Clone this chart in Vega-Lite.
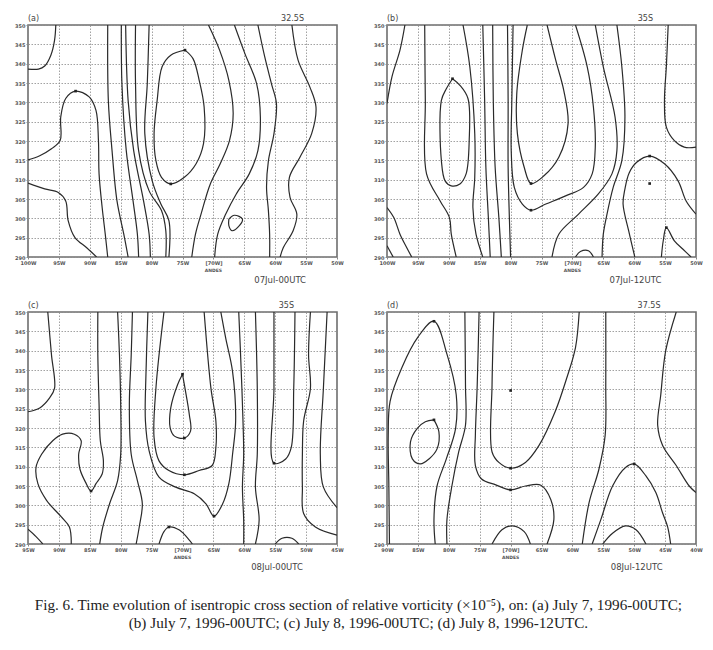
{
"$schema": "https://vega.github.io/schema/vega-lite/v6.json",
"background": "white",
"padding": {"left": 13, "top": 14, "right": 0, "bottom": 0},
"config": {
 "view": {"stroke": "#6e6e6e", "strokeWidth": 1.6},
 "axis": {"labelFontSize": 5, "labelFont": "DejaVu Sans", "labelFontWeight": "bold", "labelColor": "#555", "tickSize": 2, "tickColor": "#888", "domain": false, "grid": true, "gridColor": "#8a8a8a", "gridDash": [1.5, 1.5], "gridWidth": 0.8, "labelPadding": 1, "labelOverlap": false, "labelFlush": false, "tickCount": 30}
},
"datasets": {
 "iso": [
 {"p":"a","c":"a1","lon":95.5,"th":350},{"p":"a","c":"a1","lon":95.7,"th":346.1},{"p":"a","c":"a1","lon":96.3,"th":342.2},{"p":"a","c":"a1","lon":97.3,"th":339.4},{"p":"a","c":"a1","lon":98.3,"th":338.6},{"p":"a","c":"a1","lon":100,"th":338.6},
 {"p":"a","c":"a2","lon":100,"th":315.1},{"p":"a","c":"a2","lon":98.1,"th":316.2},{"p":"a","c":"a2","lon":96.2,"th":318},{"p":"a","c":"a2","lon":94.8,"th":320.1},{"p":"a","c":"a2","lon":94.7,"th":326.2},{"p":"a","c":"a2","lon":93.9,"th":331},{"p":"a","c":"a2","lon":92.3,"th":332.9},{"p":"a","c":"a2","lon":90.1,"th":331.4},{"p":"a","c":"a2","lon":89,"th":327.9},{"p":"a","c":"a2","lon":88.6,"th":320.1},{"p":"a","c":"a2","lon":88.5,"th":311.5},{"p":"a","c":"a2","lon":88,"th":302.8},{"p":"a","c":"a2","lon":87.5,"th":295.9},{"p":"a","c":"a2","lon":87.1,"th":290},
 {"p":"a","c":"a3","lon":100,"th":309.1},{"p":"a","c":"a3","lon":97.3,"th":307.6},{"p":"a","c":"a3","lon":95.1,"th":306.7},{"p":"a","c":"a3","lon":93.9,"th":304.5},{"p":"a","c":"a3","lon":93.5,"th":299.4},{"p":"a","c":"a3","lon":92.4,"th":295},{"p":"a","c":"a3","lon":90.5,"th":292.4},{"p":"a","c":"a3","lon":88.9,"th":290},
 {"p":"a","c":"b1","lon":87.1,"th":350},{"p":"a","c":"b1","lon":87,"th":330.5},{"p":"a","c":"b1","lon":86.4,"th":317.5},{"p":"a","c":"b1","lon":85.6,"th":304.5},{"p":"a","c":"b1","lon":84.5,"th":295.9},{"p":"a","c":"b1","lon":83.8,"th":290},
 {"p":"a","c":"b2","lon":84.9,"th":350},{"p":"a","c":"b2","lon":84.8,"th":334.8},{"p":"a","c":"b2","lon":84.1,"th":317.5},{"p":"a","c":"b2","lon":83,"th":304.5},{"p":"a","c":"b2","lon":82.3,"th":295.9},{"p":"a","c":"b2","lon":82.1,"th":290},
 {"p":"a","c":"b3","lon":84.2,"th":350},{"p":"a","c":"b3","lon":83.8,"th":330.5},{"p":"a","c":"b3","lon":82.9,"th":317.5},{"p":"a","c":"b3","lon":81.3,"th":304.5},{"p":"a","c":"b3","lon":80.4,"th":295.9},{"p":"a","c":"b3","lon":80.2,"th":290},
 {"p":"a","c":"b4","lon":82.6,"th":350},{"p":"a","c":"b4","lon":82.6,"th":334.8},{"p":"a","c":"b4","lon":82.1,"th":317.5},{"p":"a","c":"b4","lon":80.4,"th":307.1},{"p":"a","c":"b4","lon":78.4,"th":302},{"p":"a","c":"b4","lon":77.7,"th":296.8},{"p":"a","c":"b4","lon":77.7,"th":290},
 {"p":"a","c":"b5","lon":80.4,"th":350},{"p":"a","c":"b5","lon":80.7,"th":334.8},{"p":"a","c":"b5","lon":81.1,"th":321.9},{"p":"a","c":"b5","lon":79.9,"th":309.7},{"p":"a","c":"b5","lon":78.5,"th":303.7},{"p":"a","c":"b5","lon":77.2,"th":299.4},{"p":"a","c":"b5","lon":77.2,"th":290},
 {"p":"a","c":"a4","lon":74.6,"th":343.5},{"p":"a","c":"a4","lon":76.9,"th":342.2},{"p":"a","c":"a4","lon":78.3,"th":339.2},{"p":"a","c":"a4","lon":79.1,"th":330.5},{"p":"a","c":"a4","lon":79.6,"th":321.9},{"p":"a","c":"a4","lon":79.3,"th":314.9},{"p":"a","c":"a4","lon":78.4,"th":310.6},{"p":"a","c":"a4","lon":76.9,"th":308.9},{"p":"a","c":"a4","lon":74.7,"th":310.6},{"p":"a","c":"a4","lon":72.8,"th":314.1},{"p":"a","c":"a4","lon":71.6,"th":319.3},{"p":"a","c":"a4","lon":71.5,"th":328.8},{"p":"a","c":"a4","lon":72.3,"th":335.7},{"p":"a","c":"a4","lon":73.3,"th":341.3},{"p":"a","c":"a4","lon":74.6,"th":343.5},
 {"p":"a","c":"r1","lon":70.8,"th":350},{"p":"a","c":"r1","lon":69,"th":343.5},{"p":"a","c":"r1","lon":67.5,"th":335.7},{"p":"a","c":"r1","lon":66.8,"th":327.1},{"p":"a","c":"r1","lon":67.4,"th":320.1},{"p":"a","c":"r1","lon":68.9,"th":314.1},{"p":"a","c":"r1","lon":70.5,"th":308.9},{"p":"a","c":"r1","lon":72,"th":301.1},{"p":"a","c":"r1","lon":72.9,"th":295.9},{"p":"a","c":"r1","lon":73.5,"th":290},
 {"p":"a","c":"r2","lon":66.6,"th":350},{"p":"a","c":"r2","lon":64.9,"th":342.6},{"p":"a","c":"r2","lon":63,"th":334.8},{"p":"a","c":"r2","lon":62.4,"th":326.2},{"p":"a","c":"r2","lon":62.8,"th":317.5},{"p":"a","c":"r2","lon":64.2,"th":311.5},{"p":"a","c":"r2","lon":66.3,"th":306.3},{"p":"a","c":"r2","lon":68,"th":301.1},{"p":"a","c":"r2","lon":69.3,"th":295.9},{"p":"a","c":"r2","lon":69.8,"th":290},
 {"p":"a","c":"r3","lon":62.8,"th":350},{"p":"a","c":"r3","lon":61.7,"th":341.8},{"p":"a","c":"r3","lon":60.6,"th":334.8},{"p":"a","c":"r3","lon":59.8,"th":329.7},{"p":"a","c":"r3","lon":60.2,"th":321.9},{"p":"a","c":"r3","lon":61.1,"th":314.9},{"p":"a","c":"r3","lon":61.4,"th":308},{"p":"a","c":"r3","lon":61.1,"th":302},{"p":"a","c":"r3","lon":60.9,"th":295.9},{"p":"a","c":"r3","lon":60.9,"th":290},
 {"p":"a","c":"r4","lon":57.3,"th":350},{"p":"a","c":"r4","lon":56.3,"th":340.9},{"p":"a","c":"r4","lon":54.4,"th":334},{"p":"a","c":"r4","lon":53.4,"th":328.8},{"p":"a","c":"r4","lon":54.1,"th":321.9},{"p":"a","c":"r4","lon":56,"th":315.8},{"p":"a","c":"r4","lon":57.7,"th":310.6},{"p":"a","c":"r4","lon":57.6,"th":305.4},{"p":"a","c":"r4","lon":56.5,"th":301.1},{"p":"a","c":"r4","lon":57.1,"th":296.8},{"p":"a","c":"r4","lon":58.7,"th":292.4},{"p":"a","c":"r4","lon":59.2,"th":290},
 {"p":"a","c":"a5","lon":67.5,"th":299.8},{"p":"a","c":"a5","lon":66.6,"th":300.8},{"p":"a","c":"a5","lon":65.3,"th":299.8},{"p":"a","c":"a5","lon":65.8,"th":298.1},{"p":"a","c":"a5","lon":67,"th":296.8},{"p":"a","c":"a5","lon":67.5,"th":298.1},{"p":"a","c":"a5","lon":67.5,"th":299.8},

 {"p":"b","c":"1","lon":97.1,"th":350},{"p":"b","c":"1","lon":97.9,"th":343.5},{"p":"b","c":"1","lon":99.2,"th":336.6},{"p":"b","c":"1","lon":100,"th":329.7},
 {"p":"b","c":"2","lon":100,"th":302.8},{"p":"b","c":"2","lon":98.9,"th":300.2},{"p":"b","c":"2","lon":97.9,"th":295.9},{"p":"b","c":"2","lon":96.8,"th":292.4},{"p":"b","c":"2","lon":96,"th":290},
 {"p":"b","c":"3","lon":100,"th":292.9},{"p":"b","c":"3","lon":99,"th":290},
 {"p":"b","c":"4","lon":93.9,"th":350},{"p":"b","c":"4","lon":93.8,"th":330.5},{"p":"b","c":"4","lon":93.6,"th":311.5},{"p":"b","c":"4","lon":91.4,"th":304.5},{"p":"b","c":"4","lon":89.9,"th":300.2},{"p":"b","c":"4","lon":89.6,"th":295.9},{"p":"b","c":"4","lon":88.8,"th":290},
 {"p":"b","c":"5","lon":89.4,"th":336.1},{"p":"b","c":"5","lon":88.2,"th":334.4},{"p":"b","c":"5","lon":86.9,"th":331},{"p":"b","c":"5","lon":86.7,"th":320.1},{"p":"b","c":"5","lon":87.2,"th":311.5},{"p":"b","c":"5","lon":88.2,"th":308.9},{"p":"b","c":"5","lon":89.6,"th":308.4},{"p":"b","c":"5","lon":90.6,"th":309.7},{"p":"b","c":"5","lon":91.2,"th":314.9},{"p":"b","c":"5","lon":91.2,"th":330.5},{"p":"b","c":"5","lon":90.4,"th":333.5},{"p":"b","c":"5","lon":89.4,"th":336.1},
 {"p":"b","c":"6","lon":87.7,"th":350},{"p":"b","c":"6","lon":86.6,"th":339.2},{"p":"b","c":"6","lon":85.8,"th":321.9},{"p":"b","c":"6","lon":85.8,"th":310.6},{"p":"b","c":"6","lon":86.1,"th":302.8},{"p":"b","c":"6","lon":85.6,"th":295.9},{"p":"b","c":"6","lon":84.5,"th":290},
 {"p":"b","c":"7","lon":84.5,"th":350},{"p":"b","c":"7","lon":84.2,"th":330.5},{"p":"b","c":"7","lon":84,"th":313.2},{"p":"b","c":"7","lon":83.6,"th":300.2},{"p":"b","c":"7","lon":83.3,"th":290},
 {"p":"b","c":"8","lon":82.9,"th":350},{"p":"b","c":"8","lon":82.8,"th":330.5},{"p":"b","c":"8","lon":82.5,"th":313.2},{"p":"b","c":"8","lon":81.9,"th":300.2},{"p":"b","c":"8","lon":81.5,"th":290},
 {"p":"b","c":"9","lon":80.5,"th":350},{"p":"b","c":"9","lon":80.4,"th":330.5},{"p":"b","c":"9","lon":80.4,"th":313.2},{"p":"b","c":"9","lon":80.2,"th":300.2},{"p":"b","c":"9","lon":80,"th":290},
 {"p":"b","c":"10","lon":77.3,"th":350},{"p":"b","c":"10","lon":78.1,"th":343.5},{"p":"b","c":"10","lon":79,"th":332.3},{"p":"b","c":"10","lon":78.9,"th":321.9},{"p":"b","c":"10","lon":77.8,"th":313.2},{"p":"b","c":"10","lon":76.7,"th":309},{"p":"b","c":"10","lon":74.6,"th":311},{"p":"b","c":"10","lon":72.2,"th":315.8},{"p":"b","c":"10","lon":70.7,"th":324.5},{"p":"b","c":"10","lon":71.4,"th":333.1},{"p":"b","c":"10","lon":72.7,"th":340.9},{"p":"b","c":"10","lon":74.1,"th":350},
 {"p":"b","c":"11","lon":79.6,"th":350},{"p":"b","c":"11","lon":79.8,"th":330.5},{"p":"b","c":"11","lon":79.9,"th":317.5},{"p":"b","c":"11","lon":79.4,"th":308},{"p":"b","c":"11","lon":78.1,"th":303.7},{"p":"b","c":"11","lon":76.7,"th":302.1},{"p":"b","c":"11","lon":74.3,"th":303.7},{"p":"b","c":"11","lon":71.1,"th":305.8},{"p":"b","c":"11","lon":68.2,"th":308},{"p":"b","c":"11","lon":66.8,"th":311.5},{"p":"b","c":"11","lon":66.3,"th":318.4},{"p":"b","c":"11","lon":66.6,"th":328.8},{"p":"b","c":"11","lon":67.6,"th":339.2},{"p":"b","c":"11","lon":69.5,"th":350},
 {"p":"b","c":"12","lon":66.3,"th":350},{"p":"b","c":"12","lon":65,"th":339.2},{"p":"b","c":"12","lon":63.1,"th":326.2},{"p":"b","c":"12","lon":62.8,"th":317.5},{"p":"b","c":"12","lon":63.6,"th":311.5},{"p":"b","c":"12","lon":65.8,"th":306.3},{"p":"b","c":"12","lon":69,"th":301.1},{"p":"b","c":"12","lon":72.2,"th":295.9},{"p":"b","c":"12","lon":73.3,"th":290},
 {"p":"b","c":"13","lon":62.8,"th":350},{"p":"b","c":"13","lon":62,"th":339.2},{"p":"b","c":"13","lon":61.5,"th":326.2},{"p":"b","c":"13","lon":62,"th":314.9},{"p":"b","c":"13","lon":63.4,"th":308},{"p":"b","c":"13","lon":64.4,"th":301.1},{"p":"b","c":"13","lon":65,"th":295.9},{"p":"b","c":"13","lon":65.2,"th":290},
 {"p":"b","c":"14","lon":59.9,"th":290},{"p":"b","c":"14","lon":60.9,"th":296.8},{"p":"b","c":"14","lon":61.8,"th":303.7},{"p":"b","c":"14","lon":61.5,"th":307.6},{"p":"b","c":"14","lon":60.8,"th":311.8},{"p":"b","c":"14","lon":59.6,"th":314.5},{"p":"b","c":"14","lon":57.5,"th":316.1},{"p":"b","c":"14","lon":55.1,"th":314.1},{"p":"b","c":"14","lon":52.9,"th":309.7},{"p":"b","c":"14","lon":51.6,"th":304.5},{"p":"b","c":"14","lon":50,"th":301.1},
 {"p":"b","c":"15","lon":54.5,"th":350},{"p":"b","c":"15","lon":54.8,"th":339.2},{"p":"b","c":"15","lon":55.1,"th":330.5},{"p":"b","c":"15","lon":54.8,"th":323.6},{"p":"b","c":"15","lon":53.5,"th":320.1},{"p":"b","c":"15","lon":51.9,"th":318.4},{"p":"b","c":"15","lon":50,"th":318.4},
 {"p":"b","c":"16","lon":55.6,"th":290},{"p":"b","c":"16","lon":55.3,"th":294.2},{"p":"b","c":"16","lon":54.8,"th":297.6},{"p":"b","c":"16","lon":53.5,"th":294.2},{"p":"b","c":"16","lon":52.1,"th":292},{"p":"b","c":"16","lon":50.8,"th":290},
 {"p":"b","c":"17","lon":69.5,"th":290},{"p":"b","c":"17","lon":68.7,"th":291.4},{"p":"b","c":"17","lon":67.4,"th":291.6},{"p":"b","c":"17","lon":66.6,"th":290},

 {"p":"c","c":"1","lon":91.8,"th":350},{"p":"c","c":"1","lon":91.2,"th":338.9},{"p":"c","c":"1","lon":90.7,"th":330.3},{"p":"c","c":"1","lon":91.5,"th":327.8},{"p":"c","c":"1","lon":93.1,"th":325.2},{"p":"c","c":"1","lon":95,"th":324.2},
 {"p":"c","c":"2","lon":83.7,"th":350},{"p":"c","c":"2","lon":83.7,"th":338.9},{"p":"c","c":"2","lon":83.5,"th":326.1},{"p":"c","c":"2","lon":83.3,"th":316.7},{"p":"c","c":"2","lon":82.8,"th":311.5},{"p":"c","c":"2","lon":83,"th":308.1},{"p":"c","c":"2","lon":84,"th":305.6},{"p":"c","c":"2","lon":84.8,"th":303.7},{"p":"c","c":"2","lon":85.7,"th":306},{"p":"c","c":"2","lon":86.6,"th":309.4},{"p":"c","c":"2","lon":86.8,"th":313.2},{"p":"c","c":"2","lon":86.4,"th":316.7},{"p":"c","c":"2","lon":87.5,"th":318.4},{"p":"c","c":"2","lon":89.4,"th":318.4},{"p":"c","c":"2","lon":91,"th":316.7},{"p":"c","c":"2","lon":92.8,"th":313.2},{"p":"c","c":"2","lon":93.7,"th":309.8},{"p":"c","c":"2","lon":93.4,"th":305.6},{"p":"c","c":"2","lon":92,"th":301.3},{"p":"c","c":"2","lon":89.6,"th":297},{"p":"c","c":"2","lon":88.3,"th":294.4},{"p":"c","c":"2","lon":88,"th":290},
 {"p":"c","c":"3","lon":95,"th":293.8},{"p":"c","c":"3","lon":93.7,"th":291.9},{"p":"c","c":"3","lon":92.6,"th":290},
 {"p":"c","c":"4","lon":80.5,"th":350},{"p":"c","c":"4","lon":80.2,"th":338.9},{"p":"c","c":"4","lon":80,"th":326.1},{"p":"c","c":"4","lon":80,"th":313.2},{"p":"c","c":"4","lon":80.5,"th":306.4},{"p":"c","c":"4","lon":81.8,"th":300.4},{"p":"c","c":"4","lon":82.9,"th":294.4},{"p":"c","c":"4","lon":83.4,"th":290},
 {"p":"c","c":"5","lon":78.1,"th":350},{"p":"c","c":"5","lon":78.3,"th":338.9},{"p":"c","c":"5","lon":78.6,"th":326.1},{"p":"c","c":"5","lon":78.3,"th":313.2},{"p":"c","c":"5","lon":77.3,"th":306.4},{"p":"c","c":"5","lon":76.5,"th":300.4},{"p":"c","c":"5","lon":77,"th":294.4},{"p":"c","c":"5","lon":77.5,"th":290},
 {"p":"c","c":"6","lon":75.6,"th":350},{"p":"c","c":"6","lon":75.9,"th":334.6},{"p":"c","c":"6","lon":76,"th":321.8},{"p":"c","c":"6","lon":75.4,"th":314.1},{"p":"c","c":"6","lon":73.8,"th":307.3},{"p":"c","c":"6","lon":71.1,"th":304.7},{"p":"c","c":"6","lon":68.1,"th":303},{"p":"c","c":"6","lon":66.2,"th":300.4},{"p":"c","c":"6","lon":64.9,"th":297.2},{"p":"c","c":"6","lon":63.5,"th":300.4},{"p":"c","c":"6","lon":62.5,"th":305.6},{"p":"c","c":"6","lon":61.9,"th":313.2},{"p":"c","c":"6","lon":61.4,"th":321.8},{"p":"c","c":"6","lon":61.9,"th":334.6},{"p":"c","c":"6","lon":63,"th":343.2},{"p":"c","c":"6","lon":63.8,"th":350},
 {"p":"c","c":"7","lon":70,"th":333.9},{"p":"c","c":"7","lon":70.8,"th":331.2},{"p":"c","c":"7","lon":71.9,"th":325.2},{"p":"c","c":"7","lon":72,"th":320.1},{"p":"c","c":"7","lon":71.3,"th":317.9},{"p":"c","c":"7","lon":69.7,"th":317.4},{"p":"c","c":"7","lon":68.7,"th":319.2},{"p":"c","c":"7","lon":68.9,"th":323.5},{"p":"c","c":"7","lon":69.6,"th":330.3},{"p":"c","c":"7","lon":70,"th":333.9},
 {"p":"c","c":"8","lon":73,"th":350},{"p":"c","c":"8","lon":74.3,"th":330.3},{"p":"c","c":"8","lon":74.6,"th":317.5},{"p":"c","c":"8","lon":73.8,"th":311.5},{"p":"c","c":"8","lon":72.2,"th":309},{"p":"c","c":"8","lon":69.7,"th":307.9},{"p":"c","c":"8","lon":67.3,"th":309},{"p":"c","c":"8","lon":65.2,"th":310.3},{"p":"c","c":"8","lon":64.6,"th":315},{"p":"c","c":"8","lon":64.6,"th":321.8},{"p":"c","c":"8","lon":65.4,"th":330.3},{"p":"c","c":"8","lon":66.5,"th":350},
 {"p":"c","c":"9","lon":60.9,"th":350},{"p":"c","c":"9","lon":60.6,"th":338.9},{"p":"c","c":"9","lon":60.3,"th":326.1},{"p":"c","c":"9","lon":60.1,"th":313.2},{"p":"c","c":"9","lon":60.3,"th":304.7},{"p":"c","c":"9","lon":60.1,"th":296.2},{"p":"c","c":"9","lon":60.1,"th":290},
 {"p":"c","c":"15","lon":58.2,"th":350},{"p":"c","c":"15","lon":57.9,"th":330.3},{"p":"c","c":"15","lon":57.9,"th":313.2},{"p":"c","c":"15","lon":58.2,"th":304.7},{"p":"c","c":"15","lon":57.6,"th":296.2},{"p":"c","c":"15","lon":58.2,"th":290},
 {"p":"c","c":"10","lon":55.2,"th":350},{"p":"c","c":"10","lon":55.2,"th":330.3},{"p":"c","c":"10","lon":55.2,"th":310.9},{"p":"c","c":"10","lon":53.3,"th":312},{"p":"c","c":"10","lon":52.4,"th":315},{"p":"c","c":"10","lon":52,"th":330.3},{"p":"c","c":"10","lon":51.8,"th":350},
 {"p":"c","c":"11","lon":49.3,"th":350},{"p":"c","c":"11","lon":49.6,"th":338.9},{"p":"c","c":"11","lon":49.3,"th":330.3},{"p":"c","c":"11","lon":50.4,"th":321.8},{"p":"c","c":"11","lon":50.6,"th":313.2},{"p":"c","c":"11","lon":50.6,"th":304.7},{"p":"c","c":"11","lon":50.4,"th":297.9},{"p":"c","c":"11","lon":48.5,"th":294.4},{"p":"c","c":"11","lon":45,"th":292.3},
 {"p":"c","c":"12","lon":46.6,"th":350},{"p":"c","c":"12","lon":47.2,"th":330.3},{"p":"c","c":"12","lon":47.7,"th":313.2},{"p":"c","c":"12","lon":47.2,"th":304.7},{"p":"c","c":"12","lon":45,"th":299.4},
 {"p":"c","c":"13","lon":55,"th":290},{"p":"c","c":"13","lon":53.9,"th":291.5},{"p":"c","c":"13","lon":52.3,"th":291.5},{"p":"c","c":"13","lon":51.2,"th":290},
 {"p":"c","c":"14","lon":73.8,"th":290},{"p":"c","c":"14","lon":73,"th":293.2},{"p":"c","c":"14","lon":72.2,"th":294.4},{"p":"c","c":"14","lon":70.5,"th":293.6},{"p":"c","c":"14","lon":68.9,"th":291},{"p":"c","c":"14","lon":68.4,"th":290},

 {"p":"d","c":"1","lon":89.6,"th":290},{"p":"d","c":"1","lon":89.7,"th":305},{"p":"d","c":"1","lon":89.8,"th":318.1},{"p":"d","c":"1","lon":89.5,"th":326.9},{"p":"d","c":"1","lon":87.6,"th":335.6},{"p":"d","c":"1","lon":85,"th":343.5},{"p":"d","c":"1","lon":82.4,"th":347.6},{"p":"d","c":"1","lon":80.3,"th":339.1},{"p":"d","c":"1","lon":78.8,"th":328.6},{"p":"d","c":"1","lon":78.9,"th":319.9},{"p":"d","c":"1","lon":80.4,"th":312},{"p":"d","c":"1","lon":81.9,"th":305},{"p":"d","c":"1","lon":82.4,"th":296.3},{"p":"d","c":"1","lon":82.2,"th":290},
 {"p":"d","c":"2","lon":82.4,"th":322.1},{"p":"d","c":"2","lon":81.6,"th":319},{"p":"d","c":"2","lon":81.9,"th":314.6},{"p":"d","c":"2","lon":83.2,"th":312},{"p":"d","c":"2","lon":84.6,"th":310.7},{"p":"d","c":"2","lon":85.9,"th":312},{"p":"d","c":"2","lon":86.2,"th":316.4},{"p":"d","c":"2","lon":85.1,"th":319.9},{"p":"d","c":"2","lon":83.8,"th":321.6},{"p":"d","c":"2","lon":82.4,"th":322.1},
 {"p":"d","c":"3","lon":77.4,"th":350},{"p":"d","c":"3","lon":77.3,"th":331.2},{"p":"d","c":"3","lon":77.3,"th":320.7},{"p":"d","c":"3","lon":78.4,"th":313.8},{"p":"d","c":"3","lon":79.5,"th":305},{"p":"d","c":"3","lon":80.3,"th":296.3},{"p":"d","c":"3","lon":80.3,"th":290},
 {"p":"d","c":"4","lon":75.1,"th":350},{"p":"d","c":"4","lon":75.4,"th":331.2},{"p":"d","c":"4","lon":75.7,"th":318.1},{"p":"d","c":"4","lon":75.7,"th":310.3},{"p":"d","c":"4","lon":74.7,"th":306.8},{"p":"d","c":"4","lon":72.4,"th":305.3},{"p":"d","c":"4","lon":70,"th":304},{"p":"d","c":"4","lon":67.6,"th":305},{"p":"d","c":"4","lon":65.1,"th":305.2},{"p":"d","c":"4","lon":63.5,"th":301.5},{"p":"d","c":"4","lon":63,"th":296.3},{"p":"d","c":"4","lon":64.1,"th":290},
 {"p":"d","c":"5","lon":72.7,"th":350},{"p":"d","c":"5","lon":73,"th":331.2},{"p":"d","c":"5","lon":73,"th":313.8},{"p":"d","c":"5","lon":71.9,"th":311.1},{"p":"d","c":"5","lon":70,"th":309.6},{"p":"d","c":"5","lon":67.6,"th":311.1},{"p":"d","c":"5","lon":65.4,"th":315.5},{"p":"d","c":"5","lon":62.8,"th":324.2},{"p":"d","c":"5","lon":60.9,"th":333},{"p":"d","c":"5","lon":59.5,"th":340.8},{"p":"d","c":"5","lon":58.9,"th":350},
 {"p":"d","c":"6","lon":73,"th":290},{"p":"d","c":"6","lon":71.4,"th":293.7},{"p":"d","c":"6","lon":69.7,"th":294.7},{"p":"d","c":"6","lon":67.8,"th":293.2},{"p":"d","c":"6","lon":66.8,"th":290},
 {"p":"d","c":"7","lon":54.6,"th":350},{"p":"d","c":"7","lon":54.6,"th":331.2},{"p":"d","c":"7","lon":54.7,"th":318.1},{"p":"d","c":"7","lon":55.7,"th":309.4},{"p":"d","c":"7","lon":57.3,"th":300.7},{"p":"d","c":"7","lon":58.4,"th":290},
 {"p":"d","c":"8","lon":56.8,"th":290},{"p":"d","c":"8","lon":55.4,"th":296.3},{"p":"d","c":"8","lon":53.5,"th":305},{"p":"d","c":"8","lon":51.4,"th":309.8},{"p":"d","c":"8","lon":50,"th":310.7},{"p":"d","c":"8","lon":48.1,"th":307.6},{"p":"d","c":"8","lon":46.5,"th":303.3},{"p":"d","c":"8","lon":45.4,"th":298},{"p":"d","c":"8","lon":44.6,"th":294.5},{"p":"d","c":"8","lon":44.1,"th":290},
 {"p":"d","c":"9","lon":55.1,"th":290},{"p":"d","c":"9","lon":53.5,"th":292.8},{"p":"d","c":"9","lon":51.4,"th":294.7},{"p":"d","c":"9","lon":49.7,"th":293.7},{"p":"d","c":"9","lon":48.1,"th":290},
 {"p":"d","c":"10","lon":43.2,"th":350},{"p":"d","c":"10","lon":44.9,"th":340},{"p":"d","c":"10","lon":45.7,"th":328.6},{"p":"d","c":"10","lon":46.2,"th":320.7},{"p":"d","c":"10","lon":45.4,"th":315.5},{"p":"d","c":"10","lon":43.2,"th":310.3},{"p":"d","c":"10","lon":41.1,"th":305},{"p":"d","c":"10","lon":40,"th":303.3}
 ],
 "mk": [
 {"p":"a","lon":74.6,"th":343.5},{"p":"a","lon":76.9,"th":308.9},{"p":"a","lon":92.3,"th":332.9},
 {"p":"b","lon":89.4,"th":336.1},{"p":"b","lon":76.7,"th":309},{"p":"b","lon":76.7,"th":302.1},{"p":"b","lon":57.5,"th":316.1},{"p":"b","lon":57.5,"th":309},{"p":"b","lon":54.8,"th":297.6},
 {"p":"c","lon":70,"th":333.9},{"p":"c","lon":69.7,"th":317.4},{"p":"c","lon":69.7,"th":307.9},{"p":"c","lon":64.9,"th":297.2},{"p":"c","lon":55.2,"th":310.9},{"p":"c","lon":72.2,"th":294.4},{"p":"c","lon":84.8,"th":303.7},
 {"p":"d","lon":82.4,"th":347.6},{"p":"d","lon":82.4,"th":322.1},{"p":"d","lon":70,"th":309.6},{"p":"d","lon":70,"th":304},{"p":"d","lon":70,"th":329.7},{"p":"d","lon":50,"th":310.7}
 ],
 "nt": [
 {"p":"a","k":"id","lon":100,"th":350,"txt":"(a)"},{"p":"a","k":"lat","lon":57.2,"th":350,"txt":"32.5S"},{"p":"a","k":"date","lon":59.2,"th":290,"txt":"07Jul-00UTC"},{"p":"a","k":"andes","lon":70,"th":290,"txt":"ANDES"},
 {"p":"b","k":"id","lon":100,"th":350,"txt":"(b)"},{"p":"b","k":"lat","lon":58.2,"th":350,"txt":"35S"},{"p":"b","k":"date","lon":59.8,"th":290,"txt":"07Jul-12UTC"},{"p":"b","k":"andes","lon":70,"th":290,"txt":"ANDES"},
 {"p":"c","k":"id","lon":95,"th":350,"txt":"(c)"},{"p":"c","k":"lat","lon":53.2,"th":350,"txt":"35S"},{"p":"c","k":"date","lon":54.7,"th":290,"txt":"08Jul-00UTC"},{"p":"c","k":"andes","lon":70,"th":290,"txt":"ANDES"},
 {"p":"d","k":"id","lon":90,"th":350,"txt":"(d)"},{"p":"d","k":"lat","lon":47.6,"th":350,"txt":"37.5S"},{"p":"d","k":"date","lon":49.6,"th":290,"txt":"08Jul-12UTC"},{"p":"d","k":"andes","lon":70,"th":290,"txt":"ANDES"}
 ]
},
"title": {"text": ["Fig. 6. Time evolution of isentropic cross section of relative vorticity (×10⁻⁵), on: (a) July 7, 1996-00UTC;", "(b) July 7, 1996-00UTC; (c) July 8, 1996-00UTC; (d) July 8, 1996-12UTC."], "orient": "bottom", "anchor": "middle", "font": "Liberation Serif", "fontSize": 15.2, "fontWeight": "normal", "color": "#222", "lineHeight": 18, "offset": 26},
"spacing": 15,
"vconcat": [
 {"spacing": 27, "hconcat": [
  {"width": 309, "height": 232, "layer": [
   {"data": {"name": "iso"}, "transform": [{"filter": "datum.p == 'a'"}], "mark": {"type": "line", "interpolate": "catmull-rom", "stroke": "#2a2a2a", "strokeWidth": 1.2, "clip": true},
    "encoding": {"x": {"field": "lon", "type": "quantitative", "scale": {"domain": [100, 50], "nice": false, "zero": false}, "axis": {"title": null, "tickCount": 30, "values": [100,95,90,85,80,75,70,65,60,55,50], "labelExpr": "datum.value == 70 ? '[70W]' : datum.value + 'W'"}},
     "y": {"field": "th", "type": "quantitative", "scale": {"domain": [290, 350], "nice": false, "zero": false}, "axis": {"title": null, "tickCount": 30, "values": [290,295,300,305,310,315,320,325,330,335,340,345,350], "format": "d"}},
     "detail": {"field": "c"}, "order": {"value": null}}},
   {"data": {"name": "mk"}, "transform": [{"filter": "datum.p == 'a'"}], "mark": {"type": "square", "size": 7, "color": "#222", "opacity": 1}, "encoding": {"x": {"field": "lon", "type": "quantitative"}, "y": {"field": "th", "type": "quantitative"}}},
   {"data": {"name": "nt"}, "transform": [{"filter": "datum.p == 'a' && datum.k == 'id'"}], "mark": {"type": "text", "align": "left", "baseline": "bottom", "dy": -2, "fontSize": 8, "font": "DejaVu Sans", "color": "#444"}, "encoding": {"x": {"field": "lon", "type": "quantitative"}, "y": {"field": "th", "type": "quantitative"}, "text": {"field": "txt"}}},
   {"data": {"name": "nt"}, "transform": [{"filter": "datum.p == 'a' && datum.k == 'lat'"}], "mark": {"type": "text", "align": "center", "baseline": "bottom", "dy": -2, "fontSize": 8, "font": "DejaVu Sans", "color": "#444"}, "encoding": {"x": {"field": "lon", "type": "quantitative"}, "y": {"field": "th", "type": "quantitative"}, "text": {"field": "txt"}}},
   {"data": {"name": "nt"}, "transform": [{"filter": "datum.p == 'a' && datum.k == 'date'"}], "mark": {"type": "text", "align": "center", "baseline": "middle", "dy": 23, "fontSize": 8.5, "font": "DejaVu Sans", "color": "#444"}, "encoding": {"x": {"field": "lon", "type": "quantitative"}, "y": {"field": "th", "type": "quantitative"}, "text": {"field": "txt"}}},
   {"data": {"name": "nt"}, "transform": [{"filter": "datum.p == 'a' && datum.k == 'andes'"}], "mark": {"type": "text", "align": "center", "baseline": "middle", "dy": 14, "fontSize": 4.5, "font": "DejaVu Sans", "fontWeight": "bold", "color": "#555"}, "encoding": {"x": {"field": "lon", "type": "quantitative"}, "y": {"field": "th", "type": "quantitative"}, "text": {"field": "txt"}}}
  ]},
  {"width": 309, "height": 232, "layer": [
   {"data": {"name": "iso"}, "transform": [{"filter": "datum.p == 'b'"}], "mark": {"type": "line", "interpolate": "catmull-rom", "stroke": "#2a2a2a", "strokeWidth": 1.2, "clip": true},
    "encoding": {"x": {"field": "lon", "type": "quantitative", "scale": {"domain": [100, 50], "nice": false, "zero": false}, "axis": {"title": null, "tickCount": 30, "values": [100,95,90,85,80,75,70,65,60,55,50], "labelExpr": "datum.value == 70 ? '[70W]' : datum.value + 'W'"}},
     "y": {"field": "th", "type": "quantitative", "scale": {"domain": [290, 350], "nice": false, "zero": false}, "axis": {"title": null, "tickCount": 30, "values": [290,295,300,305,310,315,320,325,330,335,340,345,350], "format": "d"}},
     "detail": {"field": "c"}, "order": {"value": null}}},
   {"data": {"name": "mk"}, "transform": [{"filter": "datum.p == 'b'"}], "mark": {"type": "square", "size": 7, "color": "#222", "opacity": 1}, "encoding": {"x": {"field": "lon", "type": "quantitative"}, "y": {"field": "th", "type": "quantitative"}}},
   {"data": {"name": "nt"}, "transform": [{"filter": "datum.p == 'b' && datum.k == 'id'"}], "mark": {"type": "text", "align": "left", "baseline": "bottom", "dy": -2, "fontSize": 8, "font": "DejaVu Sans", "color": "#444"}, "encoding": {"x": {"field": "lon", "type": "quantitative"}, "y": {"field": "th", "type": "quantitative"}, "text": {"field": "txt"}}},
   {"data": {"name": "nt"}, "transform": [{"filter": "datum.p == 'b' && datum.k == 'lat'"}], "mark": {"type": "text", "align": "center", "baseline": "bottom", "dy": -2, "fontSize": 8, "font": "DejaVu Sans", "color": "#444"}, "encoding": {"x": {"field": "lon", "type": "quantitative"}, "y": {"field": "th", "type": "quantitative"}, "text": {"field": "txt"}}},
   {"data": {"name": "nt"}, "transform": [{"filter": "datum.p == 'b' && datum.k == 'date'"}], "mark": {"type": "text", "align": "center", "baseline": "middle", "dy": 23, "fontSize": 8.5, "font": "DejaVu Sans", "color": "#444"}, "encoding": {"x": {"field": "lon", "type": "quantitative"}, "y": {"field": "th", "type": "quantitative"}, "text": {"field": "txt"}}},
   {"data": {"name": "nt"}, "transform": [{"filter": "datum.p == 'b' && datum.k == 'andes'"}], "mark": {"type": "text", "align": "center", "baseline": "middle", "dy": 14, "fontSize": 4.5, "font": "DejaVu Sans", "fontWeight": "bold", "color": "#555"}, "encoding": {"x": {"field": "lon", "type": "quantitative"}, "y": {"field": "th", "type": "quantitative"}, "text": {"field": "txt"}}}
  ]}
 ]},
 {"spacing": 27, "hconcat": [
  {"width": 309, "height": 232, "layer": [
   {"data": {"name": "iso"}, "transform": [{"filter": "datum.p == 'c'"}], "mark": {"type": "line", "interpolate": "catmull-rom", "stroke": "#2a2a2a", "strokeWidth": 1.2, "clip": true},
    "encoding": {"x": {"field": "lon", "type": "quantitative", "scale": {"domain": [95, 45], "nice": false, "zero": false}, "axis": {"title": null, "tickCount": 30, "values": [95,90,85,80,75,70,65,60,55,50,45], "labelExpr": "datum.value == 70 ? '[70W]' : datum.value + 'W'"}},
     "y": {"field": "th", "type": "quantitative", "scale": {"domain": [290, 350], "nice": false, "zero": false}, "axis": {"title": null, "tickCount": 30, "values": [290,295,300,305,310,315,320,325,330,335,340,345,350], "format": "d"}},
     "detail": {"field": "c"}, "order": {"value": null}}},
   {"data": {"name": "mk"}, "transform": [{"filter": "datum.p == 'c'"}], "mark": {"type": "square", "size": 7, "color": "#222", "opacity": 1}, "encoding": {"x": {"field": "lon", "type": "quantitative"}, "y": {"field": "th", "type": "quantitative"}}},
   {"data": {"name": "nt"}, "transform": [{"filter": "datum.p == 'c' && datum.k == 'id'"}], "mark": {"type": "text", "align": "left", "baseline": "bottom", "dy": -2, "fontSize": 8, "font": "DejaVu Sans", "color": "#444"}, "encoding": {"x": {"field": "lon", "type": "quantitative"}, "y": {"field": "th", "type": "quantitative"}, "text": {"field": "txt"}}},
   {"data": {"name": "nt"}, "transform": [{"filter": "datum.p == 'c' && datum.k == 'lat'"}], "mark": {"type": "text", "align": "center", "baseline": "bottom", "dy": -2, "fontSize": 8, "font": "DejaVu Sans", "color": "#444"}, "encoding": {"x": {"field": "lon", "type": "quantitative"}, "y": {"field": "th", "type": "quantitative"}, "text": {"field": "txt"}}},
   {"data": {"name": "nt"}, "transform": [{"filter": "datum.p == 'c' && datum.k == 'date'"}], "mark": {"type": "text", "align": "center", "baseline": "middle", "dy": 23, "fontSize": 8.5, "font": "DejaVu Sans", "color": "#444"}, "encoding": {"x": {"field": "lon", "type": "quantitative"}, "y": {"field": "th", "type": "quantitative"}, "text": {"field": "txt"}}},
   {"data": {"name": "nt"}, "transform": [{"filter": "datum.p == 'c' && datum.k == 'andes'"}], "mark": {"type": "text", "align": "center", "baseline": "middle", "dy": 14, "fontSize": 4.5, "font": "DejaVu Sans", "fontWeight": "bold", "color": "#555"}, "encoding": {"x": {"field": "lon", "type": "quantitative"}, "y": {"field": "th", "type": "quantitative"}, "text": {"field": "txt"}}}
  ]},
  {"width": 309, "height": 232, "layer": [
   {"data": {"name": "iso"}, "transform": [{"filter": "datum.p == 'd'"}], "mark": {"type": "line", "interpolate": "catmull-rom", "stroke": "#2a2a2a", "strokeWidth": 1.2, "clip": true},
    "encoding": {"x": {"field": "lon", "type": "quantitative", "scale": {"domain": [90, 40], "nice": false, "zero": false}, "axis": {"title": null, "tickCount": 30, "values": [90,85,80,75,70,65,60,55,50,45,40], "labelExpr": "datum.value == 70 ? '[70W]' : datum.value + 'W'"}},
     "y": {"field": "th", "type": "quantitative", "scale": {"domain": [290, 350], "nice": false, "zero": false}, "axis": {"title": null, "tickCount": 30, "values": [290,295,300,305,310,315,320,325,330,335,340,345,350], "format": "d"}},
     "detail": {"field": "c"}, "order": {"value": null}}},
   {"data": {"name": "mk"}, "transform": [{"filter": "datum.p == 'd'"}], "mark": {"type": "square", "size": 7, "color": "#222", "opacity": 1}, "encoding": {"x": {"field": "lon", "type": "quantitative"}, "y": {"field": "th", "type": "quantitative"}}},
   {"data": {"name": "nt"}, "transform": [{"filter": "datum.p == 'd' && datum.k == 'id'"}], "mark": {"type": "text", "align": "left", "baseline": "bottom", "dy": -2, "fontSize": 8, "font": "DejaVu Sans", "color": "#444"}, "encoding": {"x": {"field": "lon", "type": "quantitative"}, "y": {"field": "th", "type": "quantitative"}, "text": {"field": "txt"}}},
   {"data": {"name": "nt"}, "transform": [{"filter": "datum.p == 'd' && datum.k == 'lat'"}], "mark": {"type": "text", "align": "center", "baseline": "bottom", "dy": -2, "fontSize": 8, "font": "DejaVu Sans", "color": "#444"}, "encoding": {"x": {"field": "lon", "type": "quantitative"}, "y": {"field": "th", "type": "quantitative"}, "text": {"field": "txt"}}},
   {"data": {"name": "nt"}, "transform": [{"filter": "datum.p == 'd' && datum.k == 'date'"}], "mark": {"type": "text", "align": "center", "baseline": "middle", "dy": 23, "fontSize": 8.5, "font": "DejaVu Sans", "color": "#444"}, "encoding": {"x": {"field": "lon", "type": "quantitative"}, "y": {"field": "th", "type": "quantitative"}, "text": {"field": "txt"}}},
   {"data": {"name": "nt"}, "transform": [{"filter": "datum.p == 'd' && datum.k == 'andes'"}], "mark": {"type": "text", "align": "center", "baseline": "middle", "dy": 14, "fontSize": 4.5, "font": "DejaVu Sans", "fontWeight": "bold", "color": "#555"}, "encoding": {"x": {"field": "lon", "type": "quantitative"}, "y": {"field": "th", "type": "quantitative"}, "text": {"field": "txt"}}}
  ]}
 ]}
]
}
